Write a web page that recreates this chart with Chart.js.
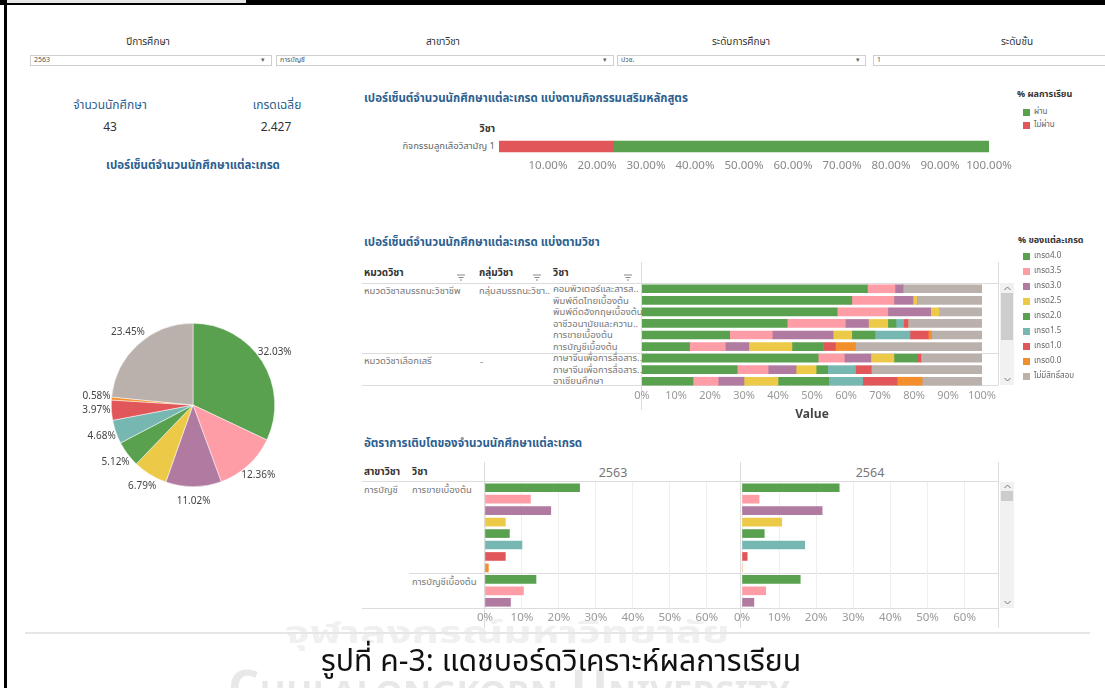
<!DOCTYPE html>
<html lang="th">
<head>
<meta charset="utf-8">
<title>แดชบอร์ดวิเคราะห์ผลการเรียน</title>
<script src="https://cdn.jsdelivr.net/npm/chart.js@4.4.1/dist/chart.umd.min.js"></script>
<style>
  body { margin: 0; background: #fff; }
  #page { position: relative; width: 1105px; height: 688px; overflow: hidden; background: #fff;
          font-family: Tahoma, "Noto Sans Thai", "Noto Sans", sans-serif; color: #333; }
  .t { position: absolute; white-space: nowrap; transform: translateY(-50%); }
  .c { transform: translate(-50%, -50%); }
  .r { transform: translate(-100%, -50%); }
  .title { color: #2d5f8f; font-size: 11.5px; font-weight: bold; }
  .hdr { font-size: 10px; font-weight: bold; color: #333; }
  .row { font-size: 9.5px; color: #777; }
  .leg { font-size: 8px; color: #666; }
  .sw { position: absolute; width: 7px; height: 7px; }
  .hl { position: absolute; height: 1px; background: #dcdcdc; }
  .vl { position: absolute; width: 1px; background: #dcdcdc; }
  .dd { position: absolute; top: 55px; height: 9px; border: 1px solid #cfcfcf; background: #fff;
        font-size: 7px; color: #555; line-height: 9px; padding-left: 3px; box-sizing: content-box; }
  .dd span { position: absolute; top: 0; font-size: 7px; color: #666; }
  .sb { position: absolute; left: 1000px; width: 14px; background: #f1f1f1; }
  .thumb { position: absolute; left: 1px; width: 12px; background: #cdcdcd; }
  .fit { transform-origin: 0 50%; }
  canvas { position: absolute; }
</style>
</head>
<body>
<div id="page">
  <!-- frame -->
  <div style="position:absolute;left:0;top:0;width:1105px;height:5px;background:#000"></div>
  <div style="position:absolute;left:7px;top:0;width:239px;height:3px;background:#e6e6e6"></div>
  <div style="position:absolute;left:4px;top:0;width:3px;height:688px;background:#000"></div>

  <!-- filters -->
  <div class="t c" style="left:148px;top:42px;font-size:10px">ปีการศึกษา</div>
  <div class="t c" style="left:443px;top:42px;font-size:10px">สาขาวิชา</div>
  <div class="t c" style="left:741px;top:42px;font-size:10px">ระดับการศึกษา</div>
  <div class="t c" style="left:1017px;top:42px;font-size:10px">ระดับชั้น</div>
  <div class="dd" style="left:30px;width:237px">2563<span style="left:230px">▾</span></div>
  <div class="dd" style="left:276px;width:333px">การบัญชี<span style="left:326px">▾</span></div>
  <div class="dd" style="left:617px;width:244px">ปวช.<span style="left:238px">▾</span></div>
  <div class="dd" style="left:873px;width:240px">1</div>

  <!-- KPIs -->
  <div class="t c" style="left:110px;top:105px;font-size:12px;color:#2d5f8f">จำนวนนักศึกษา</div>
  <div class="t c" style="left:277px;top:105px;font-size:12px;color:#2d5f8f">เกรดเฉลี่ย</div>
  <div class="t c" style="left:110px;top:127px;font-size:12px;color:#333">43</div>
  <div class="t c" style="left:276px;top:127px;font-size:12px;color:#333">2.427</div>
  <div class="t c title" style="left:193px;top:165px">เปอร์เซ็นต์จำนวนนักศึกษาแต่ละเกรด</div>
  <canvas id="pieChart" width="300" height="300" style="left:43px;top:255px"></canvas>

  <!-- activity chart -->
  <div class="t title" style="left:364px;top:98px">เปอร์เซ็นต์จำนวนนักศึกษาแต่ละเกรด แบ่งตามกิจกรรมเสริมหลักสูตร</div>
  <div class="t r hdr" style="left:495px;top:129px">วิชา</div>
  <div class="t r" id="actLabel" style="left:495px;top:146px;font-size:9.5px;color:#666"></div>
  <canvas id="actChart" width="570" height="41" style="left:459px;top:136px"></canvas>
  <div class="t hdr" style="left:1017px;top:94px;font-size:9px">% ผลการเรียน</div>
  <div id="actLegend"></div>

  <!-- subject chart -->
  <div class="t title" style="left:364px;top:242px">เปอร์เซ็นต์จำนวนนักศึกษาแต่ละเกรด แบ่งตามวิชา</div>
  <div class="t hdr" style="left:364px;top:273px">หมวดวิชา</div>
  <div class="t hdr" style="left:479px;top:273px">กลุ่มวิชา</div>
  <div class="t hdr" style="left:553px;top:273px">วิชา</div>
  <svg style="position:absolute;left:457px;top:274px" width="8" height="7"><path d="M0 1H8M1.5 3.5H6.5M3 6H5" stroke="#888" stroke-width="1"/></svg>
  <svg style="position:absolute;left:533px;top:274px" width="8" height="7"><path d="M0 1H8M1.5 3.5H6.5M3 6H5" stroke="#888" stroke-width="1"/></svg>
  <svg style="position:absolute;left:624px;top:274px" width="8" height="7"><path d="M0 1H8M1.5 3.5H6.5M3 6H5" stroke="#888" stroke-width="1"/></svg>
  <div class="hl" style="left:362px;top:283px;width:636px"></div>
  <div class="hl" style="left:362px;top:353px;width:636px"></div>
  <div class="hl" style="left:362px;top:385px;width:636px"></div>
  <div class="vl" style="left:641px;top:262px;height:148px"></div>
  <div class="vl" style="left:998px;top:262px;height:123px"></div>
  <div class="t row" style="left:364px;top:291px">หมวดวิชาสมรรถนะวิชาชีพ</div>
  <div class="t row" style="left:479px;top:291px">กลุ่มสมรรถนะวิชา..</div>
  <div class="t row" style="left:364px;top:361px">หมวดวิชาเลือกเสรี</div>
  <div class="t row" style="left:480px;top:362px">-</div>
  <div id="subjectLabels"></div>
  <canvas id="subjectChart" width="420" height="144" style="left:602px;top:283px"></canvas>
  <div class="sb" style="top:283px;height:102px"></div>
  <div class="thumb" style="left:1001px;top:293px;height:47px"></div>
  <svg style="position:absolute;left:1004px;top:286px" width="7" height="5"><path d="M0.5 4L3.5 1L6.5 4" stroke="#777" fill="none"/></svg>
  <svg style="position:absolute;left:1004px;top:377px" width="7" height="5"><path d="M0.5 1L3.5 4L6.5 1" stroke="#777" fill="none"/></svg>
  <div class="t hdr" style="left:1018px;top:240px;font-size:9px">% ของแต่ละเกรด</div>
  <div id="gradeLegend"></div>

  <!-- growth chart -->
  <div class="t title" style="left:364px;top:443px">อัตราการเติบโตของจำนวนนักศึกษาแต่ละเกรด</div>
  <div class="t hdr" style="left:364px;top:472px">สาขาวิชา</div>
  <div class="t hdr" style="left:412px;top:472px">วิชา</div>
  <div class="t c" id="yearA" style="left:613px;top:473px;font-size:12.5px;color:#777"></div>
  <div class="t c" id="yearB" style="left:870px;top:473px;font-size:12.5px;color:#777"></div>
  <div class="hl" style="left:362px;top:481px;width:636px"></div>
  <div class="hl" style="left:409px;top:573px;width:589px"></div>
  <div class="hl" style="left:362px;top:608px;width:636px"></div>
  <div class="vl" style="left:484px;top:462px;height:166px"></div>
  <div class="vl" style="left:740px;top:462px;height:166px"></div>
  <div class="vl" style="left:998px;top:462px;height:166px"></div>
  <div class="t row" style="left:364px;top:490px">การบัญชี</div>
  <div class="t row" style="left:412px;top:490px">การขายเบื้องต้น</div>
  <div class="t row" style="left:412px;top:582px">การบัญชีเบื้องต้น</div>
  <canvas id="growthA" width="335" height="150" style="left:445px;top:482px"></canvas>
  <canvas id="growthB" width="336" height="150" style="left:702px;top:482px"></canvas>
  <div class="sb" style="top:482px;height:126px"></div>
  <div class="thumb" style="left:1001px;top:491px;height:10px"></div>
  <svg style="position:absolute;left:1004px;top:484px" width="7" height="5"><path d="M0.5 4L3.5 1L6.5 4" stroke="#777" fill="none"/></svg>
  <svg style="position:absolute;left:1004px;top:600px" width="7" height="5"><path d="M0.5 1L3.5 4L6.5 1" stroke="#777" fill="none"/></svg>

  <!-- caption and watermark -->
  <div class="t fit" data-w="445" style="left:285px;top:634px;font-size:30px;font-weight:bold;color:#f0f0f0">จุฬาลงกรณ์มหาวิทยาลัย</div>
  <div class="t" style="left:25px;top:633px;width:1065px;height:2px;background:#e6e6e6"></div>
  <div class="t fit" data-w="562" style="left:228px;top:690px;font-size:48px;font-weight:bold;font-variant:small-caps;color:#e8e8e8">Chulalongkorn University</div>
  <div class="t fit" data-w="480" style="left:321px;top:662px;font-size:30px;color:#111">รูปที่ ค-3: แดชบอร์ดวิเคราะห์ผลการเรียน</div>
</div>

<script>
// Grades and palette
const gradeNames = ['เกรด4.0', 'เกรด3.5', 'เกรด3.0', 'เกรด2.5', 'เกรด2.0', 'เกรด1.5', 'เกรด1.0', 'เกรด0.0', 'ไม่มีสิทธิ์สอบ'];
const gradeColors = ['#59a14f', '#ff9da7', '#b07aa1', '#edc948', '#59a14f', '#76b7b2', '#e15759', '#f28e2b', '#bab0ac'];

// Pie: percent of students per grade
const pieValues = [32.03, 12.36, 11.02, 6.79, 5.12, 4.68, 3.97, 0.58, 23.45];

// Extra-curricular activity: pass / fail
const activityNames = ['กิจกรรมลูกเสือวิสามัญ 1'];
const resultNames = ['ผ่าน', 'ไม่ผ่าน'];
const passPct = [76.74];
const failPct = [23.26];

// Percent per grade by subject
const subjectNames = ['คอมพิวเตอร์และสารส..', 'พิมพ์ดีดไทยเบื้องต้น', 'พิมพ์ดีดอังกฤษเบื้องต้น', 'อาชีวอนามัยและความ..',
  'การขายเบื้องต้น', 'การบัญชีเบื้องต้น', 'ภาษาจีนเพื่อการสื่อสาร..', 'ภาษาจีนเพื่อการสื่อสาร..', 'อาเซียนศึกษา'];
const grade40 = [66.3, 61.7, 57.4, 42.7, 25.8, 14.0, 51.8, 28.0, 15.0];
const grade35 = [8.1, 12.4, 14.9, 17.1, 12.5, 10.5, 7.7, 9.1, 7.4];
const grade30 = [2.3, 5.6, 12.6, 6.8, 17.9, 6.9, 7.8, 8.2, 7.6];
const grade25 = [0, 1.1, 2.6, 5.7, 5.5, 12.7, 6.8, 5.9, 10.0];
const grade20 = [0, 0, 0, 2.4, 6.8, 9.2, 6.7, 3.4, 14.9];
const grade15 = [0, 0, 0, 2.2, 10.3, 0, 0, 8.2, 10.0];
const grade10 = [0, 0, 0, 1.3, 5.4, 3.6, 1.2, 4.6, 10.1];
const grade00 = [0, 0, 0, 0, 1.0, 5.9, 0, 0, 7.4];
const noRight = [23.3, 19.2, 12.5, 21.8, 14.8, 37.2, 18.0, 32.6, 17.6];

// Growth rate per grade (visible rows of the scrolled table)
const growthYears = ['2563', '2564'];
const growthSubject = ['การขายเบื้องต้น', 'การขายเบื้องต้น', 'การขายเบื้องต้น', 'การขายเบื้องต้น', 'การขายเบื้องต้น',
  'การขายเบื้องต้น', 'การขายเบื้องต้น', 'การขายเบื้องต้น', 'การบัญชีเบื้องต้น', 'การบัญชีเบื้องต้น', 'การบัญชีเบื้องต้น'];
const growthGrade = [0, 1, 2, 3, 4, 5, 6, 7, 0, 1, 2];
const growth2563 = [25.6, 12.3, 17.8, 5.5, 6.6, 10.0, 5.5, 0.9, 13.8, 10.4, 6.9];
const growth2564 = [26.2, 4.6, 21.6, 10.7, 6.0, 16.9, 1.4, 0, 15.7, 6.4, 3.2];

const FONT = 'Tahoma, "Noto Sans Thai", "Noto Sans", sans-serif';
Chart.defaults.font.family = FONT;
Chart.defaults.animation = false;
Chart.defaults.responsive = false;
Chart.defaults.plugins.legend.display = false;
Chart.defaults.plugins.tooltip.enabled = false;

function addText(parentId, text, x, y, cls, style) {
  const div = document.createElement('div');
  div.className = 't ' + cls;
  div.style.left = x + 'px';
  div.style.top = y + 'px';
  if (style) div.style.cssText += style;
  div.textContent = text;
  document.getElementById(parentId).appendChild(div);
}

function addSwatch(parentId, color, x, y) {
  const sw = document.createElement('div');
  sw.className = 'sw';
  sw.style.left = x + 'px';
  sw.style.top = (y - 3.5) + 'px';
  sw.style.background = color;
  document.getElementById(parentId).appendChild(sw);
}

// squeeze caption/watermark text to the width it has in the scan
document.querySelectorAll('.fit').forEach(el => {
  const k = Number(el.dataset.w) / el.scrollWidth;
  el.style.transform = 'translateY(-50%) scaleX(' + k + ')';
});

// Legends and table labels
addSwatch('actLegend', '#59a14f', 1023, 112);
addText('actLegend', resultNames[0], 1034, 112, 'leg');
addSwatch('actLegend', '#e15759', 1023, 125);
addText('actLegend', resultNames[1], 1034, 125, 'leg');
document.getElementById('actLabel').textContent = activityNames[0];

gradeNames.forEach((g, i) => {
  addSwatch('gradeLegend', gradeColors[i], 1023, 256 + i * 15);
  addText('gradeLegend', g, 1034, 256 + i * 15, 'leg');
});
subjectNames.forEach((s, i) => {
  addText('subjectLabels', s, 553, 289 + i * 11.56, 'row', 'line-height:11px');
});
document.getElementById('yearA').textContent = growthYears[0];
document.getElementById('yearB').textContent = growthYears[1];

// Pie chart with outside labels
const pieLabelPlugin = {
  id: 'pieLabels',
  afterDatasetsDraw(chart) {
    const ctx = chart.ctx;
    const meta = chart.getDatasetMeta(0);
    ctx.save();
    ctx.font = '10px ' + FONT;
    ctx.fillStyle = '#444';
    ctx.textAlign = 'center';
    ctx.textBaseline = 'middle';
    meta.data.forEach((arc, i) => {
      const p = arc.getProps(['x', 'y', 'startAngle', 'endAngle', 'outerRadius'], true);
      const mid = (p.startAngle + p.endAngle) / 2;
      const r = p.outerRadius + 15;
      ctx.fillText(pieValues[i].toFixed(2) + '%', p.x + Math.cos(mid) * r, p.y + Math.sin(mid) * r);
    });
    ctx.restore();
  }
};

new Chart(document.getElementById('pieChart'), {
  type: 'pie',
  data: {
    labels: gradeNames,
    datasets: [{ data: pieValues, backgroundColor: gradeColors, borderColor: '#fff', borderWidth: 0.5 }]
  },
  options: { layout: { padding: 68 } },
  plugins: [pieLabelPlugin]
});

// Activity pass/fail bar
new Chart(document.getElementById('actChart'), {
  type: 'bar',
  data: {
    labels: activityNames,
    datasets: [
      { label: resultNames[1], data: failPct, backgroundColor: '#e15759', barThickness: 11 },
      { label: resultNames[0], data: passPct, backgroundColor: '#59a14f', barThickness: 11 }
    ]
  },
  options: {
    indexAxis: 'y',
    layout: { padding: { left: 40, right: 40, top: 0, bottom: 0 } },
    scales: {
      x: {
        stacked: true, min: 0, max: 100,
        border: { display: false }, grid: { display: false, drawTicks: false },
        afterFit: s => { s.height = 20; },
        ticks: { stepSize: 10, padding: 3, color: '#888', font: { size: 11.5 }, autoSkip: false, maxRotation: 0,
                 callback: v => v === 0 ? '' : v.toFixed(2) + '%' }
      },
      y: { stacked: true, display: false }
    }
  }
});

// Subject stacked bars
const gradeSeries = [grade40, grade35, grade30, grade25, grade20, grade15, grade10, grade00, noRight];
new Chart(document.getElementById('subjectChart'), {
  type: 'bar',
  data: {
    labels: subjectNames,
    datasets: gradeSeries.map((d, i) => ({
      label: gradeNames[i], data: d, backgroundColor: gradeColors[i], barThickness: 8, borderWidth: 0
    }))
  },
  options: {
    indexAxis: 'y',
    layout: { padding: { left: 40, right: 40, top: 0, bottom: 0 } },
    scales: {
      x: {
        stacked: true, min: 0, max: 100,
        border: { display: false }, grid: { display: false, drawTicks: false },
        afterFit: s => { s.height = 40; },
        title: { display: true, text: 'Value', color: '#444', font: { size: 12, weight: 'bold' }, padding: { top: 3, bottom: 4 } },
        ticks: { stepSize: 10, padding: 3, color: '#999', font: { size: 11 }, autoSkip: false, maxRotation: 0,
                 callback: v => v + '%' }
      },
      y: { stacked: true, display: false }
    }
  }
});

// Growth panels
function makeGrowth(canvasId, values) {
  new Chart(document.getElementById(canvasId), {
    type: 'bar',
    data: {
      labels: growthSubject.map((s, i) => s + ' ' + gradeNames[growthGrade[i]]),
      datasets: [{
        data: values,
        backgroundColor: growthGrade.map(g => gradeColors[g]),
        barThickness: 8
      }]
    },
    options: {
      indexAxis: 'y',
      layout: { padding: { left: 40, right: 40, top: 0, bottom: 0 } },
      scales: {
        x: {
          min: 0, max: 69,
          border: { display: false },
          grid: { color: '#efefef', drawTicks: false },
          afterFit: s => { s.height = 24; },
          ticks: { stepSize: 10, includeBounds: false, padding: 4, color: '#999', font: { size: 11.5 },
                   autoSkip: false, maxRotation: 0, callback: v => v + '%' }
        },
        y: { display: false }
      }
    }
  });
}
makeGrowth('growthA', growth2563);
makeGrowth('growthB', growth2564);
</script>
</body>
</html>
